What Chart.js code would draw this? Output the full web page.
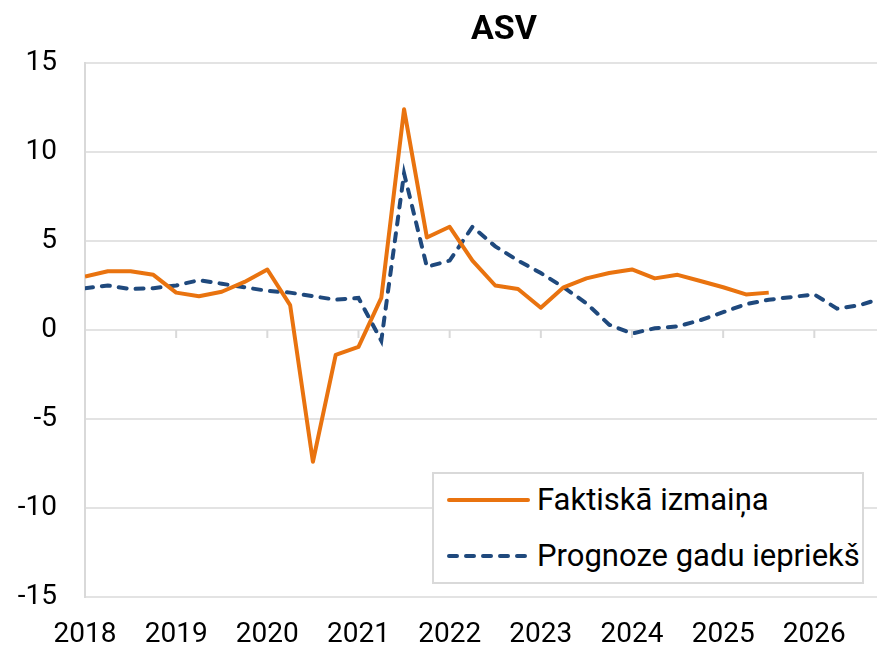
<!DOCTYPE html>
<html lang="lv">
<head>
  <meta charset="UTF-8">
  <title>ASV</title>
  <script src="https://cdn.jsdelivr.net/npm/chart.js"></script>
  <style>
    html, body { margin: 0; padding: 0; background: #fff; }
    #wrap { position: relative; width: 877px; height: 651px; font-family: Roboto, sans-serif; }
    #title { position: absolute; left: 404px; width: 200px; top: 7px; text-align: center;
             font-weight: bold; font-size: 34px; line-height: 40px; color: #000; }
    #legend { position: absolute; left: 432px; top: 472px; width: 432px; height: 112px;
              border: 2px solid #d9d9d9; background: #fff; box-sizing: border-box; }
    .item { position: absolute; left: 12px; height: 36px; display: flex; align-items: center;
            font-size: 31px; line-height: 36px; color: #000; white-space: nowrap; }
    .item svg { margin-right: 5px; }
  </style>
</head>
<body>
<div id="wrap">
  <canvas id="chart" width="877" height="651"></canvas>
  <div id="title">ASV</div>
  <div id="legend"></div>
</div>
<script>
  // quarterly, 2018Q1 ... ; index 0 = 2018Q1
  const years = ['2018', '2019', '2020', '2021', '2022', '2023', '2024', '2025', '2026'];
  const actual = [3.0, 3.3, 3.3, 3.1, 2.1, 1.9, 2.15, 2.7, 3.4, 1.4, -7.4, -1.4, -0.95, 1.8, 12.4, 5.2,
                  5.8, 3.9, 2.5, 2.3, 1.25, 2.4, 2.9, 3.2, 3.4, 2.9, 3.1, 2.75, 2.4, 2.0, 2.1];
  const forecast = [2.35, 2.5, 2.3, 2.35, 2.5, 2.8, 2.6, 2.4, 2.2, 2.1, 1.9, 1.7, 1.8, -0.6, 8.8, 3.55,
                    3.9, 5.8, 4.7, 3.9, 3.2, 2.4, 1.5, 0.3, -0.2, 0.1, 0.2, 0.55, 1.0, 1.45, 1.7, 1.85,
                    2.0, 1.2, 1.4, 1.8];
  const seriesNames = ['Faktiskā izmaiņa', 'Prognoze gadu iepriekš'];

  const ORANGE = '#E9730F';
  const BLUE = '#1F497D';
  const GRID = '#e3e3e3';

  const toXY = arr => arr.map((v, i) => ({ x: i, y: v }));

  // small tick marks on the zero line at each year start
  const zeroTicks = {
    id: 'zeroTicks',
    afterDatasetsDraw(chart) {
      const { ctx, scales: { x, y } } = chart;
      const y0 = y.getPixelForValue(0);
      ctx.save();
      ctx.strokeStyle = '#d9d9d9';
      ctx.lineWidth = 2;
      for (let i = 1; i < years.length; i++) {
        const px = x.getPixelForValue(i * 4);
        ctx.beginPath();
        ctx.moveTo(px, y0);
        ctx.lineTo(px, y0 + 8);
        ctx.stroke();
      }
      ctx.restore();
    }
  };

  new Chart(document.getElementById('chart'), {
    type: 'line',
    data: {
      datasets: [
        { label: seriesNames[0], data: toXY(actual), borderColor: ORANGE, borderWidth: 4,
          pointRadius: 0, tension: 0, borderJoinStyle: 'round' },
        { label: seriesNames[1], data: toXY(forecast), borderColor: BLUE, borderWidth: 4,
          borderDash: [8, 9], borderCapStyle: 'round', pointRadius: 0, tension: 0 }
      ]
    },
    options: {
      responsive: false,
      animation: false,
      layout: { padding: { top: 63, right: 0, left: 0, bottom: 0 } },
      plugins: { legend: { display: false }, tooltip: { enabled: false } },
      scales: {
        x: {
          type: 'linear', min: 0, max: 34.75,
          afterFit(s) { s.height = 54; },
          afterBuildTicks(s) { s.ticks = years.map((_, i) => ({ value: i * 4 })); },
          ticks: {
            padding: 21, color: '#000', maxRotation: 0, autoSkip: false,
            font: { family: 'Roboto', size: 28 },
            callback: v => years[v / 4]
          },
          grid: { display: false, drawTicks: false },
          border: { display: false }
        },
        y: {
          min: -15, max: 15,
          afterFit(s) { s.width = 85; },
          ticks: { stepSize: 5, padding: 28, color: '#000', font: { family: 'Roboto', size: 28 } },
          grid: { color: GRID, lineWidth: 2, drawTicks: false },
          border: { display: true, color: '#d9d9d9', width: 2 }
        }
      }
    },
    plugins: [zeroTicks]
  });

  // legend
  const legend = document.getElementById('legend');
  const styles = [
    '<line x1="3" y1="6" x2="82" y2="6" stroke="' + ORANGE + '" stroke-width="4" stroke-linecap="round"/>',
    '<line x1="3" y1="6" x2="82" y2="6" stroke="' + BLUE + '" stroke-width="4" stroke-linecap="round" stroke-dasharray="8 9"/>'
  ];
  seriesNames.forEach((name, i) => {
    const d = document.createElement('div');
    d.className = 'item';
    d.style.top = (i === 0 ? 8 : 64) + 'px';
    d.innerHTML = '<svg width="86" height="12">' + styles[i] + '</svg><span>' + name + '</span>';
    legend.appendChild(d);
  });
</script>
</body>
</html>
